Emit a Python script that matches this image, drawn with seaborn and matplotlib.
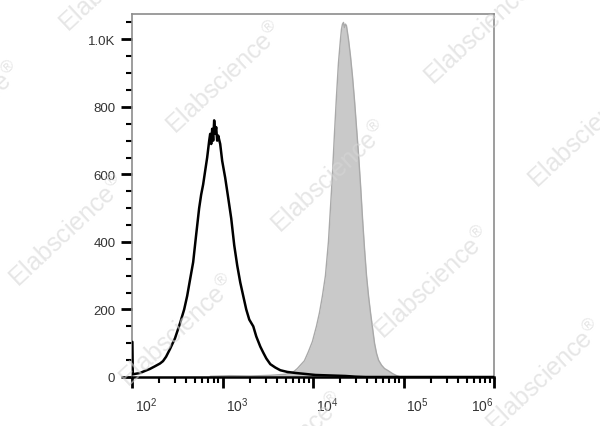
import numpy as np
import seaborn as sns
import matplotlib
matplotlib.use('Agg')
import matplotlib.pyplot as plt
from matplotlib.transforms import ScaledTranslation
from matplotlib.ticker import FixedLocator, NullFormatter

sns.set_style('white')
plt.rcParams['font.family'] = ['Liberation Sans', 'DejaVu Sans']
plt.rcParams['mathtext.default'] = 'regular'

# unstained / isotype control (black outline)
control_fl = [101, 102, 123, 139, 158, 180, 204, 220, 238, 263, 299, 340, 377, 407,
              439, 474, 511, 552, 581, 611, 643, 677, 713, 731, 750, 769, 789, 809,
              830, 851, 873, 896, 943, 992, 1071, 1157, 1248, 1348, 1455, 1571, 1695,
              1830, 1976, 2188, 2362, 2616, 2823, 3048, 3375, 3834, 4355, 5205, 6383,
              8238, 10630, 13720, 17700, 22840, 29480, 38040, 1000000]
control_count = [104, 8, 12, 18, 24, 32, 40, 47, 60, 83, 115, 160, 200, 240,
                 290, 340, 420, 500, 540, 570, 610, 650, 700, 720, 690, 735, 700, 760,
                 720, 740, 700, 715, 690, 640, 590, 530, 470, 390, 330, 280, 240,
                 200, 170, 150, 120, 90, 72, 55, 38, 28, 20, 15, 12,
                 9, 6, 5, 4, 3, 1, 0, 0]

# stained sample (grey filled)
stained_fl = [731, 1217, 2027, 3375, 4946, 6067, 6718, 7253, 8035, 8900, 9850, 10910,
              11780, 12710, 13720, 14810, 15590, 16400, 17260, 18160, 19110, 20120,
              20640, 21170, 21720, 22280, 22860, 23440, 24670, 25960, 27320, 28740,
              30240, 31830, 33500, 35250, 37090, 39040, 41080, 43230, 45490, 47870,
              50370, 53010, 57210, 61760, 68390, 75740, 83860, 92880]
stained_count = [2, 4, 3, 5, 8, 15, 25, 35, 48, 75, 105, 150,
                 190, 240, 300, 400, 500, 600, 720, 830, 930, 1000,
                 1030, 1045, 1050, 1035, 1045, 1040, 1000, 950, 890, 820,
                 740, 660, 570, 470, 380, 300, 240, 190, 145, 100,
                 70, 50, 35, 25, 18, 10, 4, 0]

x_ticks = [1e2, 1e3, 1e4, 1e5, 1e6]
x_labels = ['$10^{2}$', '$10^{3}$', '$10^{4}$', '$10^{5}$', '$10^{6}$']
y_ticks = [0, 200, 400, 600, 800, 1000]
y_labels = ['0', '200', '400', '600', '800', '1.0K']

fig = plt.figure(figsize=(6, 4.27), dpi=100)
ax = fig.add_axes([132 / 600, 1 - 378 / 427, 362 / 600, 363 / 427])

ax.fill_between(stained_fl, stained_count, 0, color='#c9c9c9', lw=0, zorder=1)
sns.lineplot(x=stained_fl, y=stained_count, ax=ax, color='#a9a9a9', lw=1,
             estimator=None, sort=False, zorder=2)
sns.lineplot(x=control_fl, y=control_count, ax=ax, color='black', lw=1.8,
             estimator=None, sort=False, zorder=3)

ax.set_xscale('log')
ax.set_xlim(1e2, 1e6)
ax.set_ylim(0, 1075)

# ticks
ax.xaxis.set_major_locator(FixedLocator(x_ticks))
ax.set_xticklabels(x_labels)
minors = [m * 10 ** e for e in range(2, 6) for m in range(2, 10)]
ax.xaxis.set_minor_locator(FixedLocator(minors))
ax.xaxis.set_minor_formatter(NullFormatter())
ax.yaxis.set_major_locator(FixedLocator(y_ticks))
ax.set_yticklabels(y_labels)
ax.yaxis.set_minor_locator(FixedLocator(list(range(50, 1075, 50))))

ax.tick_params(axis='both', which='major', direction='out', length=8, width=2,
               color='black', labelcolor='#333333')
ax.tick_params(axis='both', which='minor', direction='out', length=4, width=1.5,
               color='black')
ax.tick_params(axis='y', which='major', labelsize=9.5, pad=4)
ax.tick_params(axis='x', which='major', labelsize=10, pad=5)
ax.tick_params(left=True, bottom=True, which='both')

# shift x labels like the cytometer export does
for i, lab in enumerate(ax.get_xticklabels()):
    if i == len(x_labels) - 1:
        lab.set_horizontalalignment('right')
        dx = 0.0
    else:
        lab.set_horizontalalignment('left')
        dx = 3 / 100
    lab.set_transform(lab.get_transform() + ScaledTranslation(dx, 0, fig.dpi_scale_trans))

for side in ['top', 'right', 'left']:
    ax.spines[side].set_color('#8c8c8c')
    ax.spines[side].set_linewidth(1.2)
ax.spines['bottom'].set_color('black')
ax.spines['bottom'].set_linewidth(1.8)
ax.set_xlabel('')
ax.set_ylabel('')

# watermark
marks = [(225, 79), (483, 30), (587, 133), (330, 178), (68, 232), (178, 332),
         (433, 284), (545, 377), (287, 450), (118, -23), (-36, 119)]
for mx, my in marks:
    fig.text(mx / 600, 1 - my / 427, r'Elabscience$^{\circledR}$', fontsize=18,
             rotation=43, ha='center', va='center', color='#d6d6d6', alpha=0.6,
             zorder=10)

fig.savefig('out.png', dpi=100)
